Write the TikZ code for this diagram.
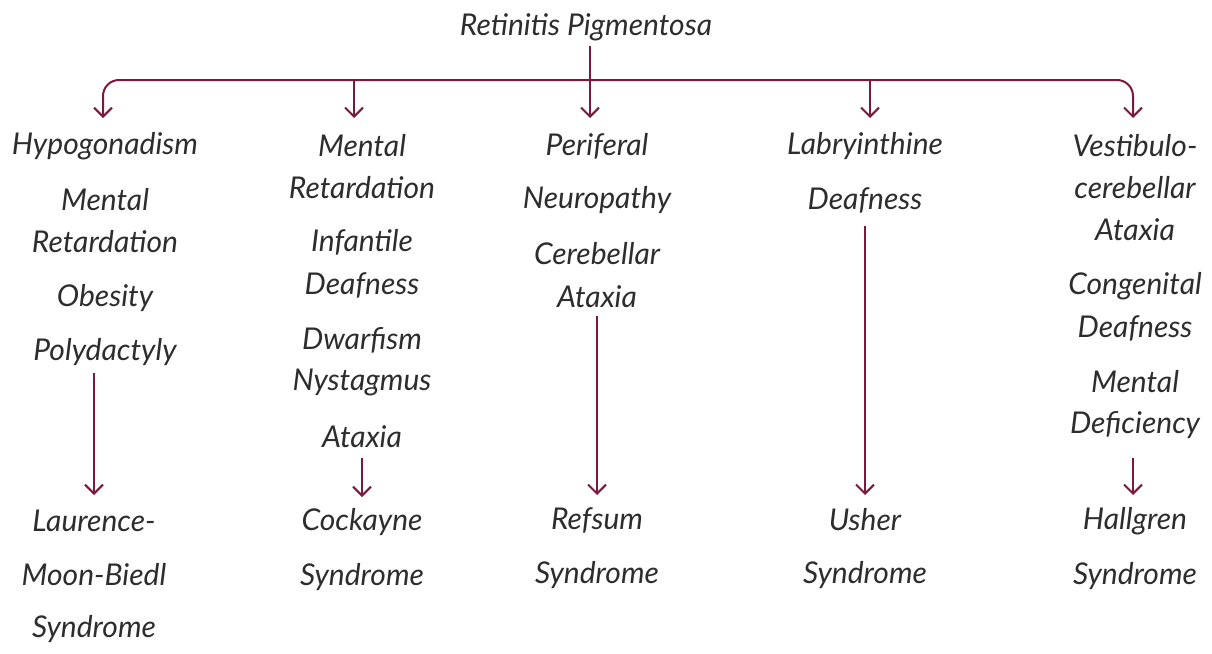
\documentclass[tikz,border=0pt]{standalone}
\usepackage{fontspec}
\setmainfont{Lato}
\usetikzlibrary{arrows.meta}
\definecolor{wine}{RGB}{122,24,62}
\definecolor{ink}{RGB}{45,45,45}
\begin{document}
\begin{tikzpicture}[x=1pt,y=-1pt,
  lbl/.style={font=\fontsize{30}{33}\selectfont\itshape, text=ink, inner sep=0pt, anchor=center},
  conn/.style={draw=wine, line width=2pt, -{Straight Barb[length=9pt,width=18pt,line width=2pt]}}]
\useasboundingbox (0,0) rectangle (1212,653);
\node[lbl] (title) at (586,27) {Retinitis Pigmentosa};
% column 1
\node[lbl] (a1) at (105,146) {Hypogonadism};
\node[lbl] (a2) at (105,200) {Mental};
\node[lbl] (a3) at (105,242) {Retardation};
\node[lbl] (a4) at (105,298) {Obesity};
\node[lbl] (a5) at (105,352) {Polydactyly};
\node[lbl] (a6) at (94,521) {Laurence-};
\node[lbl] (a7) at (94,575) {Moon-Biedl};
\node[lbl] (a8) at (94,629) {Syndrome};
% column 2
\node[lbl] (b1) at (362,146) {Mental};
\node[lbl] (b2) at (362,188) {Retardation};
\node[lbl] (b3) at (362,242) {Infantile};
\node[lbl] (b4) at (362,285) {Deafness};
\node[lbl] (b5) at (362,340) {Dwarfism};
\node[lbl] (b6) at (362,382) {Nystagmus};
\node[lbl] (b7) at (362,437) {Ataxia};
\node[lbl] (b8) at (362,522) {Cockayne};
\node[lbl] (b9) at (362,577) {Syndrome};
% column 3
\node[lbl] (c1) at (597,146) {Periferal};
\node[lbl] (c2) at (597,200) {Neuropathy};
\node[lbl] (c3) at (597,254) {Cerebellar};
\node[lbl] (c4) at (597,297) {Ataxia};
\node[lbl] (c5) at (597,520) {Refsum};
\node[lbl] (c6) at (597,575) {Syndrome};
% column 4
\node[lbl] (d1) at (865,146) {Labryinthine};
\node[lbl] (d2) at (865,200) {Deafness};
\node[lbl] (d3) at (865,520) {Usher};
\node[lbl] (d4) at (865,575) {Syndrome};
% column 5
\node[lbl] (e1) at (1135,146) {Vestibulo-};
\node[lbl] (e2) at (1135,188) {cerebellar};
\node[lbl] (e3) at (1135,230) {Ataxia};
\node[lbl] (e4) at (1135,286) {Congenital};
\node[lbl] (e5) at (1135,328) {Deafness};
\node[lbl] (e6) at (1135,382) {Mental};
\node[lbl] (e7) at (1135,425) {Deficiency};
\node[lbl] (e8) at (1135,521) {Hallgren};
\node[lbl] (e9) at (1135,576) {Syndrome};
% top distribution
\coordinate (bar) at (590,80);
\coordinate (t1) at (103,118);
\coordinate (t2) at (354,118);
\coordinate (t3) at (590,118);
\coordinate (t4) at (870,118);
\coordinate (t5) at (1133,118);
\draw[conn, rounded corners=16pt] (bar) -| (t1);
\draw[conn, rounded corners=16pt] (bar) -| (t5);
\draw[conn] (354,80) -- (t2);
\draw[conn] (870,80) -- (t4);
\draw[conn] (590,46) -- (t3);
% downward arrows
\draw[conn] (94,373) -- (94,495);
\draw[conn] (362,458) -- (362,497);
\draw[conn] (597,316) -- (597,495);
\draw[conn] (865,226) -- (865,495);
\draw[conn] (1133,458) -- (1133,495);
\end{tikzpicture}
\end{document}
